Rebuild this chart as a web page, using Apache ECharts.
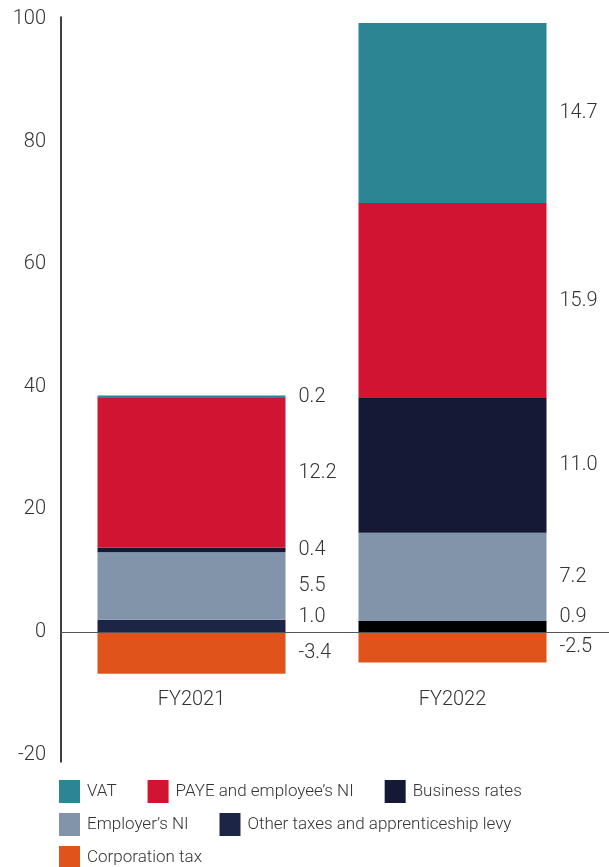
<!DOCTYPE html>
<html>
<head>
<meta charset="utf-8">
<script src="https://cdn.jsdelivr.net/npm/echarts@6/dist/echarts.min.js"></script>
<style>
  html, body { margin: 0; padding: 0; background: #ffffff; }
  #chart { width: 609px; height: 867px; }
</style>
</head>
<body>
<div id="chart"></div>
<script>
// Tax contributions by year (stacked, negative values below zero)
const categories = ['FY2021', 'FY2022'];
const otherTaxes = [1.0, 0.9];
const employersNI = [5.5, 7.2];
const businessRates = [0.4, 11.0];
const payeEmployeeNI = [12.2, 15.9];
const vat = [0.2, 14.7];
const corporationTax = [-3.4, -2.5];

// Value axis: data range and the tick labels printed along it
const yMin = -10;
const yMax = 50;
const yStep = 10;
const yTickLabels = ['-20', '0', '20', '40', '60', '80', '100'];

const legendOrder = [
  'VAT',
  'PAYE and employee\u2019s NI',
  'Business rates',
  'Employer\u2019s NI',
  'Other taxes and apprenticeship levy',
  'Corporation tax'
];

const FONT = 'Roboto';
const TEXT = '#333333';

// Plot area: 12.25 px per unit, zero baseline at y = 632
const PLOT_TOP = 19.3;
const PLOT_BOTTOM = 112.5;
// Frame axes run a little past the labelled range
const FRAME_TOP = 17;
const FRAME_BOTTOM = 105;
const FRAME_MIN = -10.61;
const FRAME_MAX = 50.19;

function barSeries(name, values, color, opts) {
  opts = opts || {};
  return {
    name: name,
    type: 'bar',
    stack: 'tax',
    xAxisIndex: 0,
    yAxisIndex: 0,
    barWidth: 188,
    itemStyle: { color: color },
    data: values.map(function (v, i) {
      const item = { value: v };
      if (opts.pointColors && opts.pointColors[i]) {
        item.itemStyle = { color: opts.pointColors[i] };
      }
      return item;
    }),
    label: {
      show: true,
      position: 'right',
      distance: 13,
      offset: opts.labelOffset || [0, 0],
      fontFamily: FONT,
      fontWeight: 300,
      fontSize: 20,
      color: TEXT,
      formatter: function (p) { return p.value.toFixed(1); }
    },
    emphasis: { disabled: true }
  };
}

const chart = echarts.init(document.getElementById('chart'), null, { renderer: 'canvas' });

chart.setOption({
  animation: false,
  backgroundColor: '#ffffff',
  textStyle: { fontFamily: FONT },
  grid: [
    { left: 61, right: 26, top: PLOT_TOP, bottom: PLOT_BOTTOM, containLabel: false },
    { left: 61, right: 0, top: FRAME_TOP, bottom: FRAME_BOTTOM, containLabel: false }
  ],
  legend: {
    data: legendOrder,
    left: 59,
    right: 4,
    top: 780,
    padding: 0,
    itemGap: 10,
    itemWidth: 21,
    itemHeight: 23,
    icon: 'rect',
    selectedMode: false,
    textStyle: {
      fontFamily: FONT,
      fontWeight: 300,
      fontSize: 17,
      color: TEXT,
      padding: [0, 21, 0, 2],
      backgroundColor: 'rgba(255,255,255,0)'
    }
  },
  xAxis: [
    {
      type: 'category',
      gridIndex: 0,
      data: categories,
      axisLine: { show: false, onZero: false },
      axisTick: { show: false },
      splitLine: { show: false },
      axisLabel: {
        margin: -64.5,
        fontFamily: FONT,
        fontWeight: 300,
        fontSize: 20,
        color: TEXT
      }
    },
    {
      // zero baseline running across the full plot width
      type: 'value',
      gridIndex: 1,
      min: 0,
      max: 1,
      z: 10,
      axisLine: { show: true, onZero: true, lineStyle: { color: '#555555', width: 1 } },
      axisTick: { show: false },
      axisLabel: { show: false },
      splitLine: { show: false }
    }
  ],
  yAxis: [
    {
      type: 'value',
      gridIndex: 0,
      min: yMin,
      max: yMax,
      interval: yStep,
      axisLine: { show: false },
      axisTick: { show: false },
      splitLine: { show: false },
      axisLabel: {
        margin: 15,
        fontFamily: FONT,
        fontWeight: 300,
        fontSize: 20,
        color: TEXT,
        formatter: function (v) {
          return yTickLabels[Math.round((v - yMin) / yStep)];
        }
      }
    },
    {
      // vertical frame line on the left edge
      type: 'value',
      gridIndex: 1,
      min: FRAME_MIN,
      max: FRAME_MAX,
      z: 10,
      axisLine: { show: true, onZero: false, lineStyle: { color: '#000000', width: 1.5 } },
      axisTick: { show: false },
      axisLabel: { show: false },
      splitLine: { show: false }
    }
  ],
  series: [
    barSeries('Other taxes and apprenticeship levy', otherTaxes, '#1c2545',
      { labelOffset: [0, -9], pointColors: [null, '#000000'] }),
    barSeries('Employer\u2019s NI', employersNI, '#8294aa'),
    barSeries('Business rates', businessRates, '#151935'),
    barSeries('PAYE and employee\u2019s NI', payeEmployeeNI, '#d01431'),
    barSeries('VAT', vat, '#2c8592'),
    barSeries('Corporation tax', corporationTax, '#e0531b')
  ]
});
</script>
</body>
</html>
